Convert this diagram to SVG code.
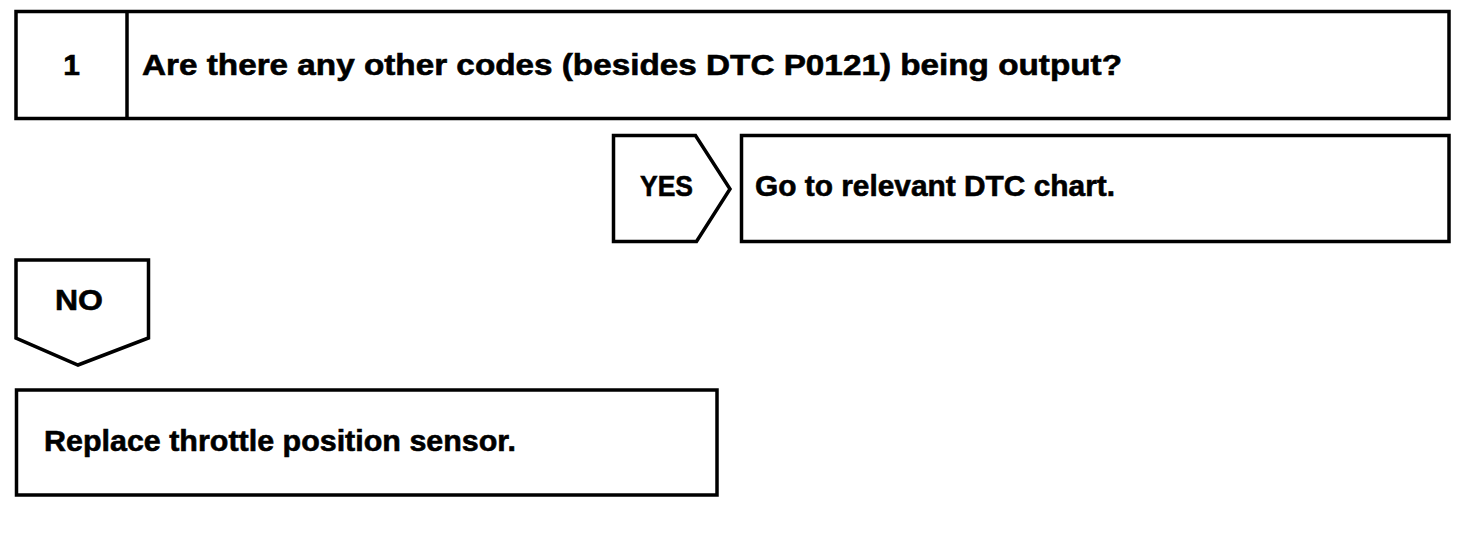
<svg xmlns="http://www.w3.org/2000/svg" width="1472" height="538" viewBox="0 0 1472 538">
  <style>
    .box { fill: #ffffff; stroke: #000000; stroke-width: 3.5; stroke-linejoin: miter; }
    .t { font-family: "Liberation Sans", Arial, Helvetica, sans-serif; font-weight: bold; font-size: 30px; fill: #000000; stroke: #000000; stroke-width: 0.6; }
  </style>
  <rect width="1472" height="538" fill="#ffffff"/>
  <g id="step1">
    <rect class="box" x="16" y="11.5" width="1433" height="107"/>
    <line x1="127" y1="11.5" x2="127" y2="118.5" stroke="#000" stroke-width="3.5"/>
    <text class="t" x="71.5" y="75" text-anchor="middle">1</text>
    <text class="t" x="142" y="75" textLength="980" lengthAdjust="spacingAndGlyphs">Are there any other codes (besides DTC P0121) being output?</text>
  </g>
  <g id="connectors">
    <g id="yes">
      <polygon class="box" points="613.5,135.5 695.5,135.5 730,189 696.5,241.5 613.5,241.5"/>
      <text class="t" x="640" y="196" textLength="53" lengthAdjust="spacingAndGlyphs">YES</text>
    </g>
    <g id="no">
      <polygon class="box" points="16,260 148.5,260 148.5,338 78,365 16,338"/>
      <text class="t" x="55" y="310" textLength="48" lengthAdjust="spacingAndGlyphs">NO</text>
    </g>
  </g>
  <g id="yes-result">
    <rect class="box" x="741.5" y="135.5" width="707.5" height="106"/>
    <text class="t" x="755" y="196" textLength="360" lengthAdjust="spacingAndGlyphs">Go to relevant DTC chart.</text>
  </g>
  <g id="no-result">
    <rect class="box" x="16.5" y="390" width="700.5" height="105"/>
    <text class="t" x="44" y="451" textLength="472" lengthAdjust="spacingAndGlyphs">Replace throttle position sensor.</text>
  </g>
</svg>
